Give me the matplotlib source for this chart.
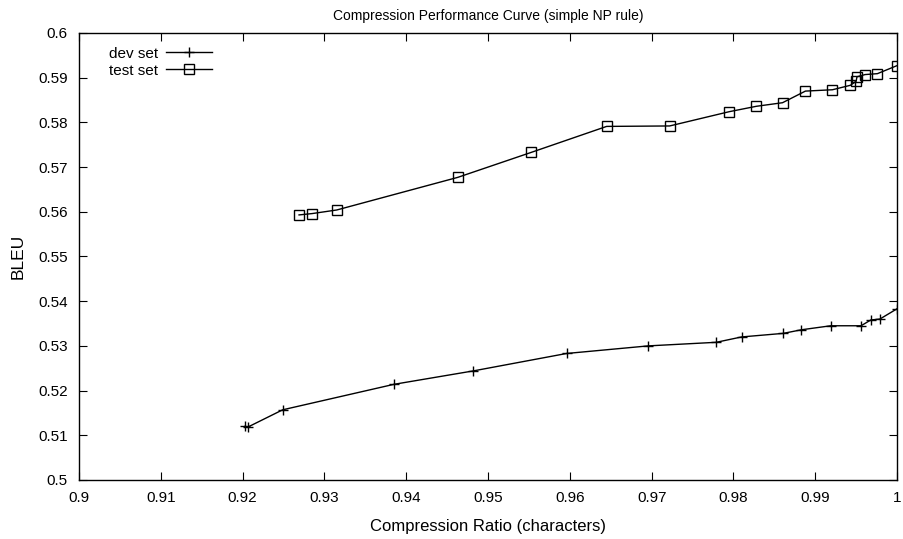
import matplotlib.pyplot as plt

plt.rcParams['font.family'] = ['Liberation Sans', 'DejaVu Sans']

# dev set (compression ratio, BLEU)
dev_x = [0.9203, 0.9206, 0.9249, 0.9385, 0.9482, 0.9596, 0.9696, 0.9779,
         0.9810, 0.9861, 0.9883, 0.9919, 0.9956, 0.9968, 0.9979, 1.0]
dev_y = [0.5120, 0.5118, 0.5157, 0.5214, 0.5244, 0.5283, 0.5300, 0.5308,
         0.5320, 0.5328, 0.5336, 0.5345, 0.5345, 0.5358, 0.5360, 0.5383]

# test set
test_x = [0.9269, 0.9285, 0.9315, 0.9463, 0.9553, 0.9645, 0.9722, 0.9795,
          0.9828, 0.9860, 0.9888, 0.9921, 0.9943, 0.9950, 0.9951, 0.9961,
          0.9976, 1.0]
test_y = [0.5593, 0.5596, 0.5604, 0.5677, 0.5733, 0.5791, 0.5792, 0.5824,
          0.5836, 0.5844, 0.5870, 0.5873, 0.5883, 0.5892, 0.5902, 0.5907,
          0.5909, 0.5927]

fig = plt.figure(figsize=(9.04, 5.39), dpi=100)
ax = fig.add_axes([0.0874, 0.1095, 0.9049, 0.8293])

ax.plot(dev_x, dev_y, color='black', lw=1, marker='+', ms=7.5, mew=1,
        label='dev set')
ax.plot(test_x, test_y, color='black', lw=1, marker='s', ms=7, mew=1,
        mfc='none', label='test set')

ax.set_xlim(0.9, 1.0)
ax.set_ylim(0.5, 0.6)
ax.set_xticks([0.9 + 0.01 * i for i in range(11)])
ax.set_xticklabels(['0.9', '0.91', '0.92', '0.93', '0.94', '0.95', '0.96',
                    '0.97', '0.98', '0.99', '1'])
ax.set_yticks([0.5 + 0.01 * i for i in range(11)])
ax.set_yticklabels(['0.5', '0.51', '0.52', '0.53', '0.54', '0.55', '0.56',
                    '0.57', '0.58', '0.59', '0.6'])
ax.tick_params(direction='in', length=6, width=0.8, top=True, right=True,
               labelsize=11, pad=8)
for s in ax.spines.values():
    s.set_linewidth(1)

ax.set_title('Compression Performance Curve (simple NP rule)', fontsize=10,
             pad=9)
ax.set_xlabel('Compression Ratio (characters)', fontsize=12, labelpad=10)
ax.set_ylabel('BLEU', fontsize=12.5, labelpad=9)

ax.legend(loc='upper left', frameon=False, markerfirst=False, fontsize=11,
          handlelength=3, handletextpad=0.5, labelspacing=0.2,
          bbox_to_anchor=(0.02, 1.0))

plt.savefig('out.png')
